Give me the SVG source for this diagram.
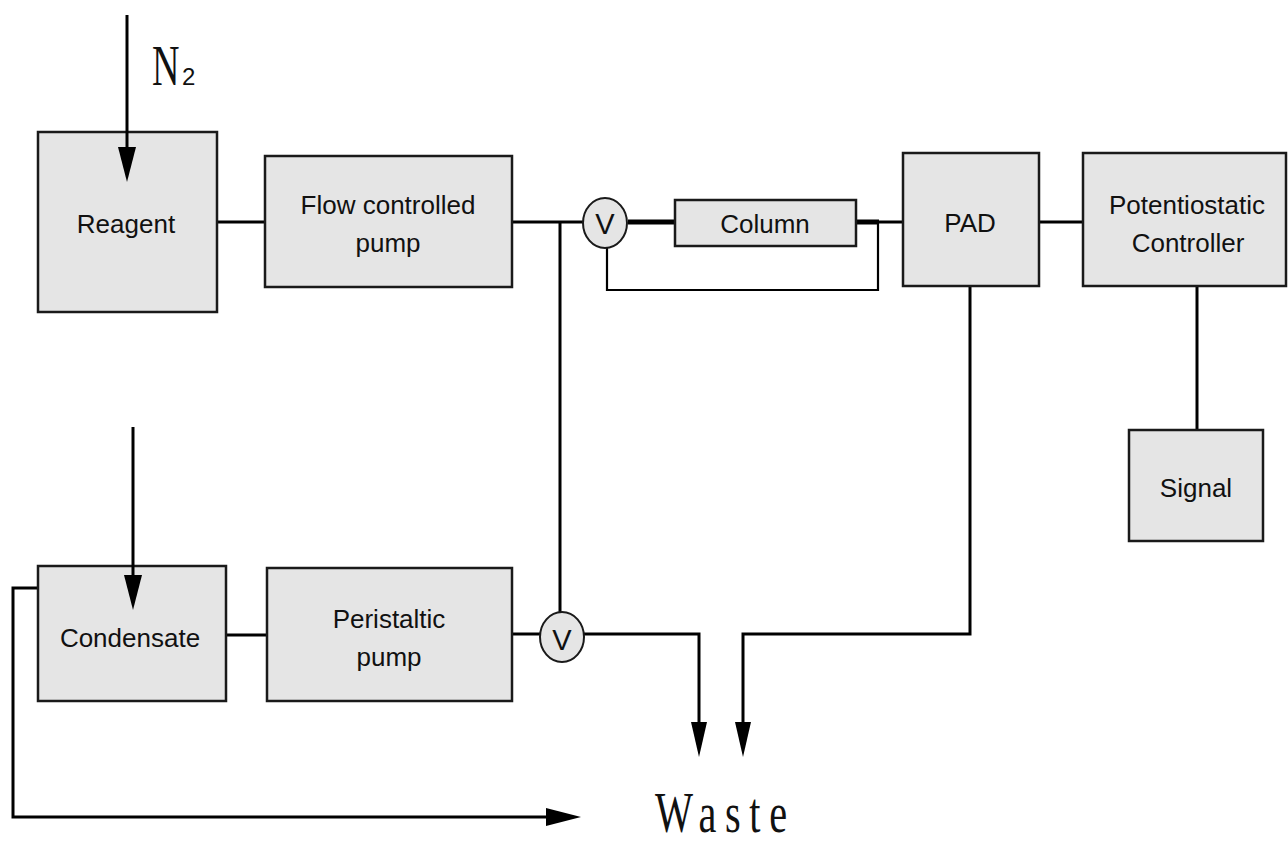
<svg xmlns="http://www.w3.org/2000/svg" width="1288" height="844" viewBox="0 0 1288 844">
<style>
.box{fill:#e5e5e5;stroke:#1a1a1a;stroke-width:2.5}
.valve{fill:#e5e5e5;stroke:#1a1a1a;stroke-width:2}
.lbl{font-family:"Liberation Sans",Arial,sans-serif;font-size:26px;fill:#111;text-anchor:middle}
.vl{font-family:"Liberation Sans",Arial,sans-serif;font-size:29px;fill:#111;text-anchor:middle}
.ln{fill:none;stroke:#000;stroke-width:3}
.thick{fill:none;stroke:#000;stroke-width:5}
.thin{fill:none;stroke:#000;stroke-width:2.2}
</style>
<defs>
<marker id="ah" markerUnits="userSpaceOnUse" markerWidth="36" markerHeight="20" refX="0" refY="9" orient="auto" viewBox="0 0 36 18">
<path d="M0,0 L35,9 L0,18 z" fill="#000"/>
</marker>
<marker id="ahs" markerUnits="userSpaceOnUse" markerWidth="36" markerHeight="18" refX="0" refY="8" orient="auto" viewBox="0 0 36 16">
<path d="M0,0 L35,8 L0,16 z" fill="#000"/>
</marker>
</defs>
<rect width="1288" height="844" fill="#fff"/>
<g id="connectors">
<path class="ln" d="M217,222 L265,222"/>
<path class="ln" d="M512,222 L583,222"/>
<path class="ln" d="M560,222 L560,613"/>
<path class="thick" d="M628,222 L675,222"/>
<path class="thick" d="M856,222 L879,222"/>
<path class="ln" d="M879,222 L903,222"/>
<path class="thin" d="M607,247 L607,290 L878,290 L878,223"/>
<path class="ln" d="M1039,222 L1083,222"/>
<path class="ln" d="M1197,286 L1197,430"/>
<path class="ln" d="M226,635 L267,635"/>
<path class="ln" d="M512,634 L540,634"/>
<path class="ln" d="M584,634 L699,634 L699,722" marker-end="url(#ahs)"/>
<path class="ln" d="M970,286 L970,634 L743,634 L743,722" marker-end="url(#ahs)"/>
<path class="ln" d="M38,588 L13,588 L13,817 L546,817" marker-end="url(#ah)"/>
</g>
<g id="reagent">
<rect class="box" x="38" y="132" width="179" height="180"/>
<text class="lbl" x="126" y="233">Reagent</text>
</g>
<g id="n2-label">
<text font-family="'Liberation Serif','Times New Roman',serif" font-size="56" fill="#111" transform="translate(152,85) scale(0.68,1)">N</text>
<text font-family="'Liberation Sans',Arial,sans-serif" font-size="24" fill="#111" x="182" y="85">2</text>
</g>
<g id="flow-pump">
<rect class="box" x="265" y="156" width="247" height="131"/>
<text class="lbl" x="388" y="214">Flow controlled</text>
<text class="lbl" x="388" y="252">pump</text>
</g>
<g id="valve-top">
<ellipse class="valve" cx="605" cy="223" rx="22" ry="25"/>
<text class="vl" x="605" y="234">V</text>
</g>
<g id="column">
<rect class="box" x="675" y="200" width="181" height="46"/>
<text class="lbl" x="765" y="233" font-size="25">Column</text>
</g>
<g id="pad">
<rect class="box" x="903" y="153" width="136" height="133"/>
<text class="lbl" x="970" y="232">PAD</text>
</g>
<g id="potentiostatic-controller">
<rect class="box" x="1083" y="153" width="203" height="133"/>
<text class="lbl" x="1187" y="214">Potentiostatic</text>
<text class="lbl" x="1188" y="252">Controller</text>
</g>
<g id="signal">
<rect class="box" x="1129" y="430" width="134" height="111"/>
<text class="lbl" x="1196" y="497">Signal</text>
</g>
<g id="condensate">
<rect class="box" x="38" y="566" width="188" height="135"/>
<text class="lbl" x="130" y="647">Condensate</text>
</g>
<g id="peristaltic-pump">
<rect class="box" x="267" y="568" width="245" height="133"/>
<text class="lbl" x="389" y="628">Peristaltic</text>
<text class="lbl" x="389" y="666">pump</text>
</g>
<g id="valve-bottom">
<ellipse class="valve" cx="562" cy="637" rx="22" ry="25"/>
<text class="vl" x="562" y="650">V</text>
</g>
<g id="connectors-inlet">
<path class="ln" d="M127,15 L127,147" marker-end="url(#ah)"/>
<path class="ln" d="M133,427 L133,575" marker-end="url(#ah)"/>
</g>
<g id="waste-label">
<text font-family="'Liberation Serif','Times New Roman',serif" font-size="56" fill="#111" letter-spacing="12" transform="translate(655,832) scale(0.72,1)">Waste</text>
</g>
</svg>
